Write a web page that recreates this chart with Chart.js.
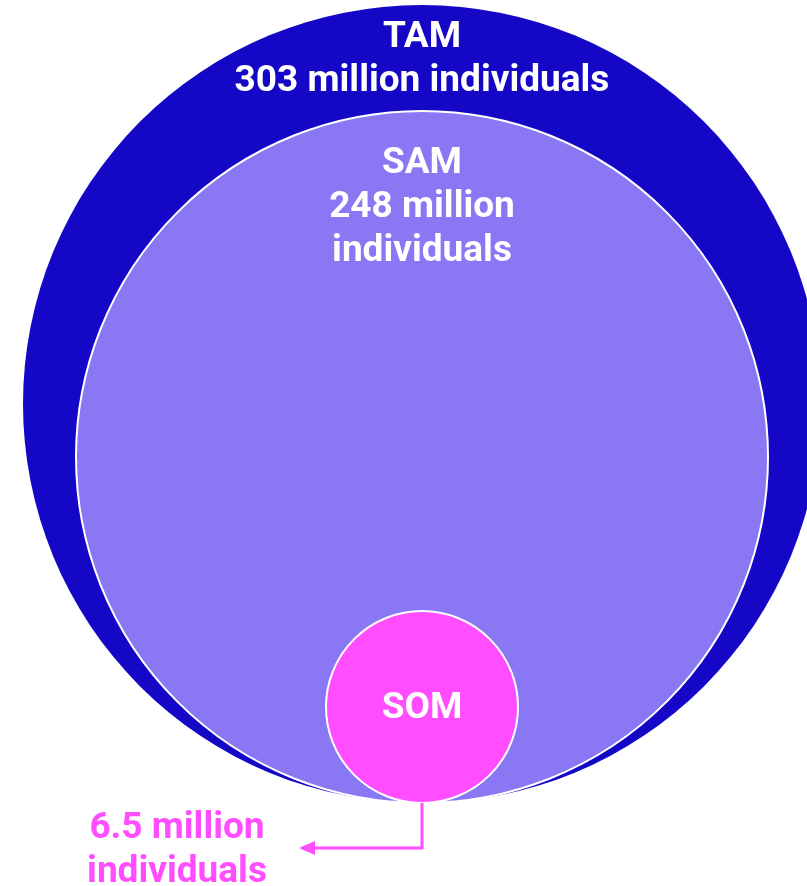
<!DOCTYPE html>
<html>
<head>
<meta charset="utf-8">
<title>TAM SAM SOM</title>
<script src="https://cdn.jsdelivr.net/npm/chart.js@4.4.1/dist/chart.umd.min.js"></script>
<style>
    html, body { margin: 0; padding: 0; background: #ffffff; }
    #wrap { width: 807px; height: 886px; position: relative; }
</style>
</head>
<body>
<div id="wrap"><canvas id="marketChart"></canvas></div>
<script>
// Market sizes (million individuals)
const markets = ['TAM', 'SAM', 'SOM'];
const marketSize = [303, 248, 6.5];
const sizeUnit = 'million';
const unitLabel = 'individuals';

// Circle geometry in axis units; every circle touches the base point (0, 0)
const circleRadius = [399, 346, 96];
const circleColors = ['#1408C6', '#8A77F3', '#FF4DFF'];
const circleBorder = [0, 2, 2];

// First text baseline (y axis units) for each circle
const labelBaseline = [756, 630, 85];
const lineStep = 44;
const labelFont = 'bold 37px Roboto';

// SOM call-out: drop from the base point, then run left to the caption
const calloutDrop = 45;
const calloutEndX = -123;
const captionX = -245;
const captionBaseline = -35;

const labelLines = [
    [markets[0], `${marketSize[0]} ${sizeUnit} ${unitLabel}`],
    [markets[1], `${marketSize[1]} ${sizeUnit}`, unitLabel],
    [markets[2]],
];
const captionLines = [`${marketSize[2]} ${sizeUnit}`, unitLabel];

function pxRadius(chart, r) {
    const x = chart.scales.x;
    return x.getPixelForValue(r) - x.getPixelForValue(0);
}

// Text and SOM call-out arrow on top of the circles
const labelPlugin = {
    id: 'marketLabels',
    afterDatasetsDraw(chart) {
        const { ctx, scales: { x, y } } = chart;
        ctx.save();
        ctx.font = labelFont;
        ctx.textAlign = 'center';
        ctx.textBaseline = 'alphabetic';
        ctx.fillStyle = '#ffffff';
        labelLines.forEach((lines, i) => {
            lines.forEach((t, j) => {
                ctx.fillText(t, x.getPixelForValue(0), y.getPixelForValue(labelBaseline[i]) + j * lineStep);
            });
        });

        // call-out line
        const x0 = x.getPixelForValue(0);
        const y0 = y.getPixelForValue(0);
        const y1 = y0 + calloutDrop;
        const x1 = x.getPixelForValue(calloutEndX);
        ctx.strokeStyle = circleColors[2];
        ctx.lineWidth = 3;
        ctx.beginPath();
        ctx.moveTo(x0, y0);
        ctx.lineTo(x0, y1);
        ctx.lineTo(x1 + 12, y1);
        ctx.stroke();
        ctx.fillStyle = circleColors[2];
        ctx.beginPath();
        ctx.moveTo(x1, y1);
        ctx.lineTo(x1 + 16, y1 - 7);
        ctx.lineTo(x1 + 16, y1 + 7);
        ctx.closePath();
        ctx.fill();

        captionLines.forEach((t, j) => {
            ctx.fillText(t, x.getPixelForValue(captionX), y.getPixelForValue(captionBaseline) + j * lineStep);
        });
        ctx.restore();
    }
};

new Chart(document.getElementById('marketChart').getContext('2d'), {
    type: 'scatter',
    data: {
        labels: markets,
        datasets: [{
            label: 'Market',
            data: circleRadius.map(r => ({ x: 0, y: r })),
            backgroundColor: circleColors,
            borderColor: '#ffffff',
            borderWidth: circleBorder,
            pointRadius: ctx => pxRadius(ctx.chart, circleRadius[ctx.dataIndex]),
            pointHoverRadius: ctx => pxRadius(ctx.chart, circleRadius[ctx.dataIndex]),
            clip: false,
        }],
    },
    options: {
        responsive: true,
        maintainAspectRatio: false,
        animation: false,
        events: [],
        layout: { padding: 0 },
        plugins: {
            legend: { display: false },
            tooltip: { enabled: false },
        },
        scales: {
            x: { type: 'linear', min: -422, max: 385, display: false },
            y: { type: 'linear', min: -83, max: 803, display: false },
        },
    },
    plugins: [labelPlugin],
});
</script>
</body>
</html>
